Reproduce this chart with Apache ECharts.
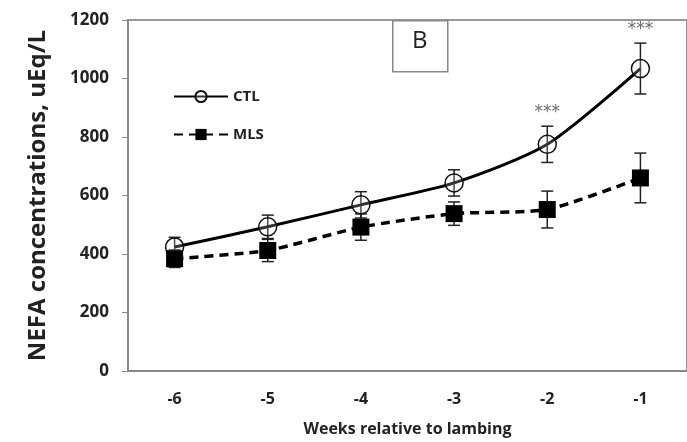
<!DOCTYPE html>
<html>
<head>
<meta charset="utf-8">
<style>
html, body { margin: 0; padding: 0; background: #fff; }
#main { width: 687px; height: 442px; }
</style>
<script src="https://cdn.jsdelivr.net/npm/echarts@6/dist/echarts.min.js"></script>
</head>
<body>
<div id="main"></div>
<script>
var weeks = ['-6', '-5', '-4', '-3', '-2', '-1'];
var ctlMean = [424, 493, 568, 643, 775, 1034];
var ctlErr = [33, 40, 45, 45, 62, 87];
var mlsMean = [384, 412, 492, 538, 552, 660];
var mlsErr = [30, 38, 45, 40, 63, 85];
var starLabels = ['', '', '', '', '***', '***'];
var yTicks = [0, 200, 400, 600, 800, 1000, 1200];

var font = '"Open Sans", Lato, sans-serif';

var errData = function (mean, err) {
    var out = [];
    for (var i = 0; i < mean.length; i++) {
        out.push([i, mean[i] - err[i], mean[i] + err[i]]);
    }
    return out;
};

var starData = [];
for (var i = 0; i < weeks.length; i++) {
    if (starLabels[i]) starData.push([i, ctlMean[i] + ctlErr[i]]);
}

var renderErr = function (params, api) {
    var x = api.value(0);
    var lo = api.coord([x, api.value(1)]);
    var hi = api.coord([x, api.value(2)]);
    var cap = 6;
    var style = { stroke: '#222', lineWidth: 1.5 };
    return {
        type: 'group',
        children: [
            { type: 'line', shape: { x1: lo[0], y1: lo[1], x2: hi[0], y2: hi[1] }, style: style },
            { type: 'line', shape: { x1: lo[0] - cap, y1: lo[1], x2: lo[0] + cap, y2: lo[1] }, style: style },
            { type: 'line', shape: { x1: hi[0] - cap, y1: hi[1], x2: hi[0] + cap, y2: hi[1] }, style: style }
        ]
    };
};

var myChart = echarts.init(document.getElementById('main'));
var option = {
    animation: false,
    textStyle: { fontFamily: font },
    grid: {
        left: 128, top: 20, right: -15, bottom: 67,
        show: true, borderColor: '#999', borderWidth: 2
    },
    legend: {
        orient: 'vertical',
        left: 168, top: 84,
        itemWidth: 54, itemHeight: 14, itemGap: 23,
        data: ['CTL', 'MLS'],
        textStyle: { fontFamily: font, fontWeight: 'bold', fontSize: 15, color: '#222' }
    },
    graphic: [
        {
            type: 'rect', left: 392, top: 20,
            shape: { width: 55, height: 51 },
            style: { fill: '#fff', stroke: '#888', lineWidth: 1.5 }
        },
        {
            type: 'text', left: 412, top: 29,
            style: { text: 'B', fontSize: 24, fontFamily: font, fill: '#222' }
        }
    ],
    xAxis: {
        type: 'category',
        data: weeks,
        name: 'Weeks relative to lambing',
        nameLocation: 'middle',
        nameGap: 50,
        nameTextStyle: { fontFamily: font, fontWeight: 'bold', fontSize: 16, color: '#222' },
        axisLine: { lineStyle: { color: '#888', width: 2 } },
        axisTick: { length: 4, lineStyle: { color: '#888' } },
        axisLabel: { margin: 20, fontFamily: font, fontWeight: 'bold', fontSize: 16, color: '#222' }
    },
    yAxis: {
        type: 'value',
        min: 0, max: 1200, interval: 200,
        name: 'NEFA concentrations, uEq/L',
        nameLocation: 'middle',
        nameGap: 78,
        nameTextStyle: { fontFamily: font, fontWeight: 'bold', fontSize: 24, color: '#222' },
        splitLine: { show: false },
        axisLine: { show: true, lineStyle: { color: '#888', width: 2 } },
        axisTick: { show: true, length: 6, lineStyle: { color: '#888' } },
        axisLabel: {
            margin: 19, fontFamily: font, fontWeight: 'bold', fontSize: 17, color: '#222',
            formatter: function (v) { return yTicks.indexOf(v) >= 0 ? String(v) : ''; }
        }
    },
    series: [
        {
            type: 'custom', name: 'ctlErr', renderItem: renderErr,
            data: errData(ctlMean, ctlErr), z: 1, silent: true
        },
        {
            type: 'custom', name: 'mlsErr', renderItem: renderErr,
            data: errData(mlsMean, mlsErr), z: 1, silent: true
        },
        {
            name: 'CTL', type: 'line', data: ctlMean, smooth: 0.25, z: 3,
            symbol: 'circle', symbolSize: 18,
            lineStyle: { color: '#000', width: 3 },
            itemStyle: { color: 'rgba(255,255,255,0.2)', borderColor: '#111', borderWidth: 1.5 }
        },
        {
            name: 'MLS', type: 'line', data: mlsMean, smooth: 0.2, z: 3,
            symbol: 'rect', symbolSize: 17,
            lineStyle: { color: '#000', width: 3.5, type: [9, 6] },
            itemStyle: { color: '#000' }
        },
        {
            type: 'scatter', data: starData, symbolSize: 0, silent: true,
            label: {
                show: true, position: 'top', distance: 5,
                formatter: '***', fontSize: 17, color: '#444',
                fontFamily: '"DejaVu Sans", sans-serif'
            }
        }
    ]
};
myChart.setOption(option);
</script>
</body>
</html>
